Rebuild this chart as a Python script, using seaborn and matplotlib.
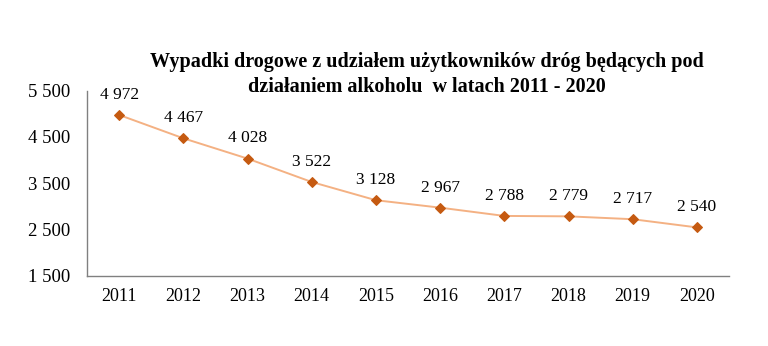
import matplotlib
matplotlib.use("Agg")
import matplotlib.pyplot as plt
import seaborn as sns
import pandas as pd
import numpy as np

years = ["2011", "2012", "2013", "2014", "2015", "2016", "2017", "2018", "2019", "2020"]
accidents = [4972, 4467, 4028, 3522, 3128, 2967, 2788, 2779, 2717, 2540]
y_ticks = [1500, 2500, 3500, 4500, 5500]
title_lines = ["Wypadki drogowe z udziałem użytkowników dróg będących pod",
               "działaniem alkoholu  w latach 2011 - 2020"]

sns.set_style("white")
plt.rcParams['font.family'] = ['Liberation Serif', 'DejaVu Serif']

def fmt(v):
    return f"{v:,}".replace(",", " ")

df = pd.DataFrame({"rok": years, "wypadki": accidents})

fig = plt.figure(figsize=(7.68, 3.46), dpi=100)
ax = fig.add_axes([87/768, 1 - 275.5/346, (729-87)/768, (275.5-90.5)/346])

sns.lineplot(data=df, x="rok", y="wypadki", ax=ax, color="#F4B183", linewidth=1.4,
             marker="D", markersize=5.5, markerfacecolor="#C55A11", markeredgecolor="#C55A11",
             sort=False)

for i, v in enumerate(accidents):
    ax.annotate(fmt(v), (i, v), xytext=(0, 14.5), textcoords="offset points",
                ha="center", va="center", fontsize=12.5, color="black")

ax.set_xlim(-0.5, len(years) - 0.5)
ax.set_ylim(1500, 5500)
ax.set_yticks(y_ticks)
ax.set_yticklabels([fmt(t) for t in y_ticks], fontsize=13.5, color="black")
ax.set_xticks(np.arange(len(years) + 1) - 0.5)
ax.set_xticklabels([])
ax.set_xticks(np.arange(len(years)), minor=True)
ax.set_xticklabels(years, minor=True, fontsize=13, color="black")
ax.tick_params(axis="x", which="major", length=4, direction="out", color="#808080", width=1)
ax.tick_params(axis="x", which="minor", length=0, pad=9)
ax.tick_params(axis="y", length=4, direction="out", color="#808080", width=1, pad=8)
ax.set_xlabel("")
ax.set_ylabel("")
for s in ["top", "right"]:
    ax.spines[s].set_visible(False)
for s in ["left", "bottom"]:
    ax.spines[s].set_color("#808080")
    ax.spines[s].set_linewidth(1)

fig.text(427/768, 1 - 62/346, title_lines[0], ha="center", va="center",
         fontsize=14.5, fontweight="bold", color="black")
fig.text(427/768, 1 - 87/346, title_lines[1], ha="center", va="center",
         fontsize=14.5, fontweight="bold", color="black")

fig.savefig("out.png", dpi=100, facecolor="white")
